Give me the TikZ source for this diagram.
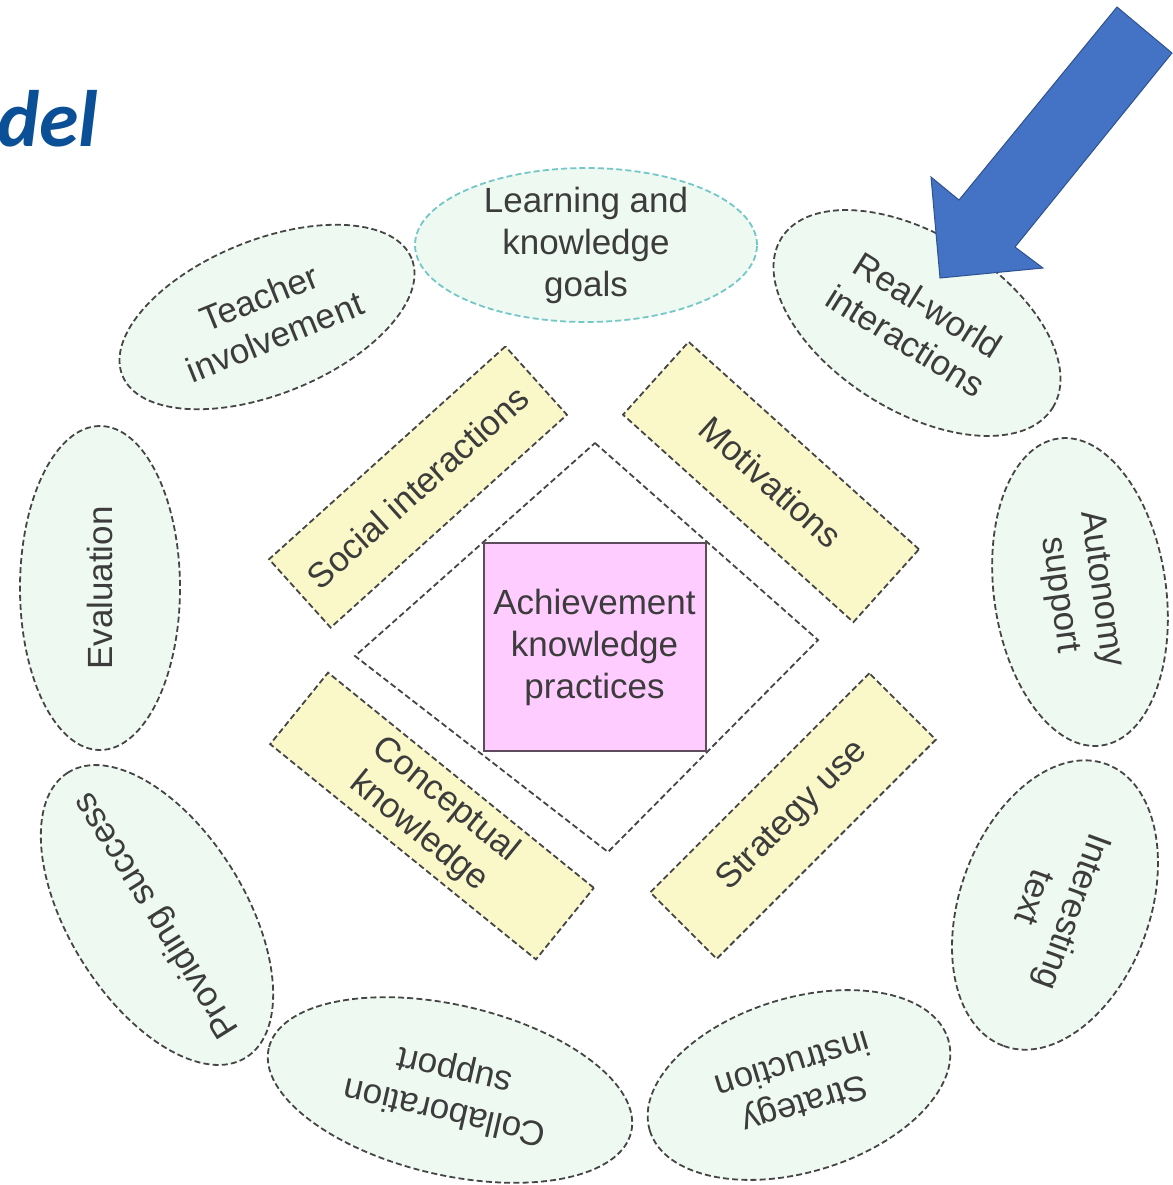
\documentclass[tikz,border=0pt]{standalone}
\usepackage{fontspec}
\setmainfont{Liberation Sans}
\newfontfamily\titlefont{Carlito}
\usetikzlibrary{shapes.geometric}
\definecolor{mintfill}{HTML}{EEF9F1}
\definecolor{barfill}{HTML}{FAF8C8}
\definecolor{corefill}{HTML}{FFCCFF}
\definecolor{coreedge}{HTML}{5D4A5D}
\definecolor{dashgray}{HTML}{454545}
\definecolor{goalcyan}{HTML}{74C7C7}
\definecolor{txtgray}{HTML}{3C3C3C}
\definecolor{titleblue}{HTML}{0B4F96}
\definecolor{arrowblue}{HTML}{4472C4}
\definecolor{arrowedge}{HTML}{2F528F}
\begin{document}
\begin{tikzpicture}[x=.5pt, y=-.5pt,
		every node/.style={text=txtgray, font=\fontsize{17.5}{21}\selectfont, align=center, inner sep=0pt},
		oval/.style={ellipse, draw=dashgray, fill=mintfill, line width=.9pt, dash pattern=on 3pt off 1.6pt, inner xsep=-30pt, inner ysep=-10pt},
		bar/.style={rectangle, draw=dashgray, fill=barfill, line width=.9pt, dash pattern=on 3pt off 1.6pt, minimum height=46pt}]
			\useasboundingbox (0,0) rectangle (1173,1185);
			\clip (0,0) rectangle (1173,1185);
			\node[anchor=base west, text=titleblue, font=\titlefont\fontsize{40}{40}\selectfont\bfseries\itshape] (title) at (-3,146) {del};

			% outer ring of ovals
			\node[oval, draw=goalcyan, minimum width=171pt, minimum height=77pt] (goals) at (586,245) {Learning and\\knowledge\\goals};
			\foreach \nm/\x/\y/\ang/\a/\b/\txt in {
					teacher/267/317/22/156/77/{Teacher\\involvement},
					realworld/917/323/-32/160/88/{Real-world\\interactions},
					autonomy/1080/592/-82/155/86/{Autonomy\\support},
					interest/1055/905/-110/150/95/{Interesting\\text},
					stratinstr/799/1085/197/156/87/{Strategy\\instruction},
					collab/450/1090/167/186/85/{Collaboration\\support},
					success/157/915/122/168/88/{Providing success},
					evaluation/100/588/90/162/80/{Evaluation}}
				{
					\node[oval, rotate=\ang, minimum width=\a pt, minimum height=\b pt] (\nm) at (\x,\y) {\txt};
				}

			% inner diamond
			\coordinate (dtop) at (595,443);
			\coordinate (dright) at (818,640);
			\coordinate (dbottom) at (608,852);
			\coordinate (dleft) at (355,656);
			\draw[draw=dashgray, fill=white, line width=.9pt, dash pattern=on 3pt off 1.6pt] (dtop) -- (dright) -- (dbottom) -- (dleft) -- cycle;

			% four bars
			\node[bar, rotate=42, minimum width=159pt] (social) at (418,487) {Social interactions};
			\node[bar, rotate=-42, minimum width=155pt, minimum height=49pt] (motiv) at (771,482) {Motivations};
			\node[bar, rotate=-39, minimum width=171pt] (concept) at (432,816) {Conceptual\\knowledge};
			\node[bar, rotate=45, minimum width=155pt, minimum height=47pt] (stratuse) at (793,816) {Strategy use};

			% centre
			\node[rectangle, draw=coreedge, fill=corefill, line width=1pt, minimum width=111pt, minimum height=104pt] (core) at (594.5,647) {Achievement\\knowledge\\practices};

			% pointer
			\draw[fill=arrowblue, draw=arrowedge, line width=.5pt] (1117,7) -- (1172,53) -- (1015,247) -- (1043,268) -- (940,278) -- (931,177) -- (959,200) -- cycle;
		\end{tikzpicture}
\end{document}
